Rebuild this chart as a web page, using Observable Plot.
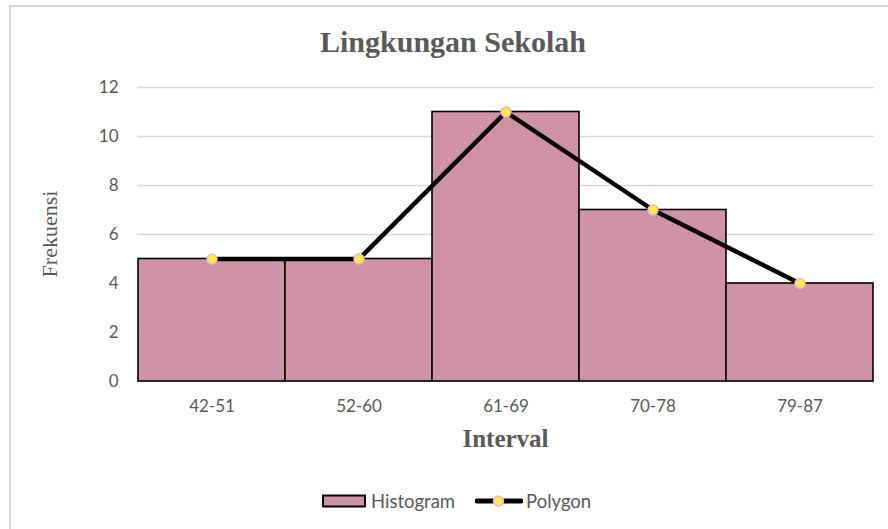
<!DOCTYPE html>
<html>
<head>
<meta charset="utf-8">
<script src="https://cdn.jsdelivr.net/npm/d3@7"></script>
<script src="https://cdn.jsdelivr.net/npm/@observablehq/plot@0.6"></script>
<style>
  html, body { margin: 0; padding: 0; background: #fff; }
  #wrap { position: relative; width: 888px; height: 529px; overflow: hidden; background: #fff; }
  #frame { position: absolute; left: 9px; top: 5px; width: 900px; height: 600px; border-top: 2px solid #d9d9d9; border-left: 2px solid #d9d9d9; box-sizing: border-box; }
  #chart { position: absolute; left: 0; top: 0; }
  .title { position: absolute; left: 0; width: 906px; top: 24px; line-height: 36px; text-align: center; font-family: "Liberation Serif", serif; font-weight: bold; font-size: 30px; color: #595959; }
  .ylab { position: absolute; left: 50px; top: 234px; transform: translate(-50%, -50%) rotate(-90deg); font-family: "Liberation Serif", serif; font-size: 22px; color: #595959; white-space: nowrap; }
  .xlab { position: absolute; left: 0; width: 1011px; top: 424px; line-height: 30px; text-align: center; font-family: "Liberation Serif", serif; font-weight: bold; font-size: 25px; color: #595959; }
  .legend { position: absolute; top: 490px; left: 322px; font-family: Lato, "Open Sans", sans-serif; font-size: 18.5px; color: #595959; display: flex; align-items: center; }
  .legend .item { display: flex; align-items: center; }
</style>
</head>
<body>
<div id="wrap">
  <div id="frame"></div>
  <div id="chart"></div>
  <div class="title">Lingkungan Sekolah</div>
  <div class="ylab">Frekuensi</div>
  <div class="xlab">Interval</div>
  <div class="legend" id="legend"></div>
</div>
<script>
const categories = ["42-51", "52-60", "61-69", "70-78", "79-87"];
const frequencies = [5, 5, 11, 7, 4];
const yTicks = [0, 2, 4, 6, 8, 10, 12];
const seriesNames = ["Histogram", "Polygon"];

const barFill = "#d093a5";
const dotFill = "#ffe94f";
const dotStroke = "#e8b9c6";

const data = categories.map((c, i) => ({cat: c, freq: frequencies[i]}));

const chart = Plot.plot({
  width: 888,
  height: 529,
  marginTop: 87,
  marginBottom: 148,
  marginLeft: 137,
  marginRight: 14,
  style: {color: "#595959", fontFamily: "Lato, 'Open Sans', sans-serif", background: "transparent", overflow: "visible"},
  x: {domain: categories, padding: 0, label: null},
  y: {domain: [0, 12], label: null},
  marks: [
    Plot.gridY(yTicks, {stroke: "#d9d9d9", strokeOpacity: 1, strokeWidth: 1.3}),
    Plot.axisY(yTicks, {tickSize: 0, tickPadding: 19, fontSize: 17, label: null, fill: "#595959"}),
    Plot.axisX(categories, {tickSize: 0, tickPadding: 18, fontSize: 17, label: null, fill: "#595959"}),
    Plot.barY(data, {x: "cat", y: "freq", fill: barFill, stroke: "#000", strokeWidth: 1.6}),
    Plot.line(data, {x: "cat", y: "freq", stroke: "#000", strokeWidth: 4.5}),
    Plot.dot(data, {x: "cat", y: "freq", r: 5, fill: dotFill, stroke: dotStroke, strokeWidth: 1.5, symbol: "circle"})
  ]
});
document.getElementById("chart").appendChild(chart);

// Legend
const legend = document.getElementById("legend");
legend.innerHTML = `
  <div class="item">
    <svg width="45" height="14"><rect x="1" y="1.5" width="42" height="11" fill="${barFill}" stroke="#000" stroke-width="2"/></svg>
    <span style="margin-left:4px">${seriesNames[0]}</span>
  </div>
  <div class="item" style="margin-left:20px">
    <svg width="48" height="16"><line x1="2" y1="8" x2="46" y2="8" stroke="#000" stroke-width="5" stroke-linecap="round"/><circle cx="23.5" cy="8" r="5" fill="${dotFill}" stroke="${dotStroke}" stroke-width="1.5"/></svg>
    <span style="margin-left:3px">${seriesNames[1]}</span>
  </div>`;
</script>
</body>
</html>
